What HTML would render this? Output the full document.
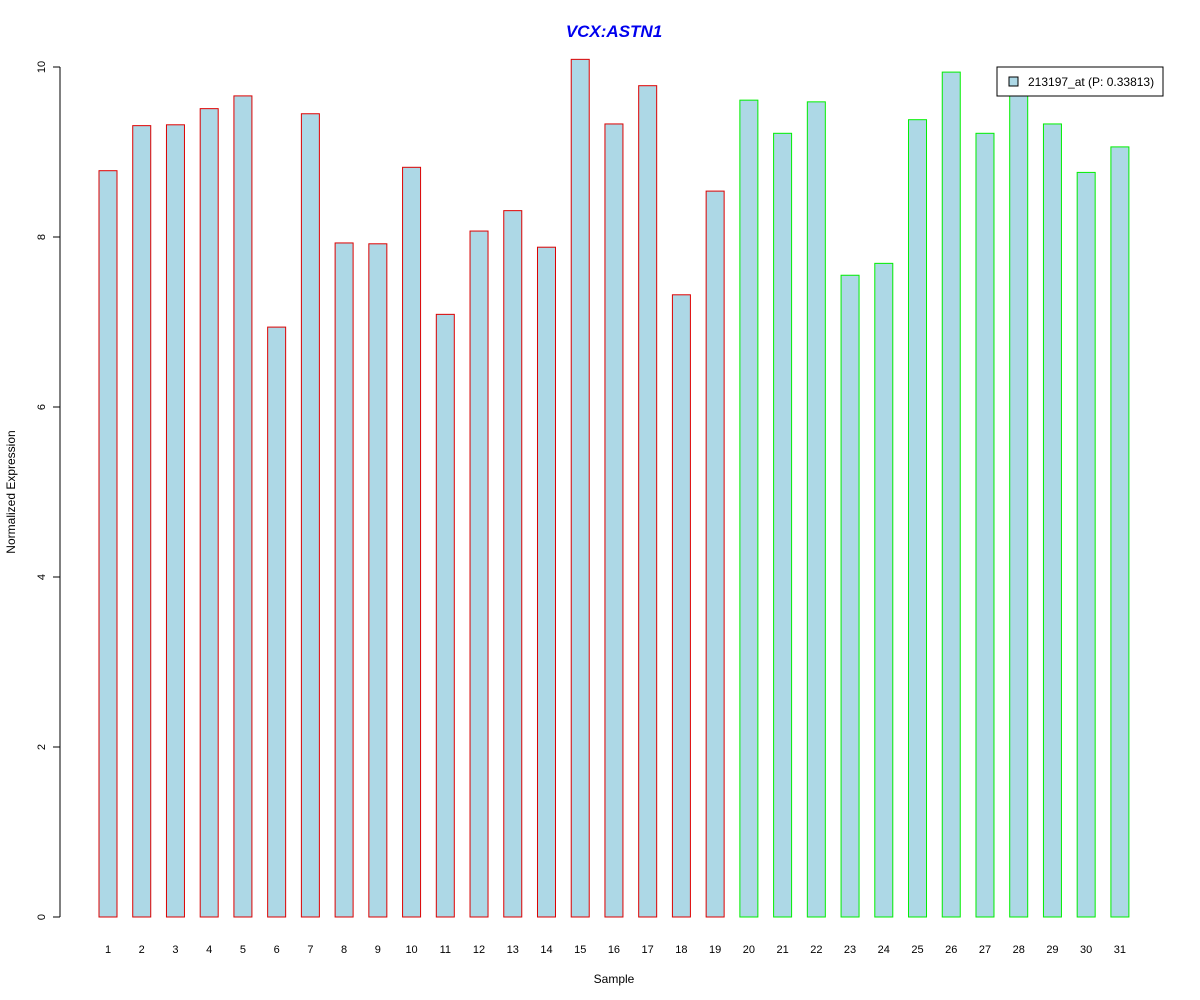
<!DOCTYPE html>
<html><head><meta charset="utf-8"><style>
html,body{margin:0;padding:0;background:#fff;}
svg{display:block;font-family:"Liberation Sans",Arial,sans-serif;}
</style></head><body>
<svg id="chart" width="1200" height="1000" xmlns="http://www.w3.org/2000/svg">
<text x="614" y="37" text-anchor="middle" font-size="17" font-weight="bold" font-style="italic" fill="#0000ee">VCX:ASTN1</text>
<text x="614" y="983" text-anchor="middle" font-size="12">Sample</text>
<text transform="translate(15,492) rotate(-90)" text-anchor="middle" font-size="12">Normalized Expression</text>
<g id="yaxis"></g>
<g id="bars"></g>
<g id="xlabels"></g>
<g>
<rect x="997" y="67" width="166" height="29" fill="#fff" stroke="#000"/>
<rect x="1009" y="77" width="9" height="9" fill="#add8e6" stroke="#000"/>
<text x="1028" y="86" font-size="12">213197_at (P: 0.33813)</text>
</g>
</svg>
<script>
const categories=["1","2","3","4","5","6","7","8","9","10","11","12","13","14","15","16","17","18","19","20","21","22","23","24","25","26","27","28","29","30","31"];
const values=[8.78,9.31,9.32,9.51,9.66,6.94,9.45,7.93,7.92,8.82,7.09,8.07,8.31,7.88,10.09,9.33,9.78,7.32,8.54,9.61,9.22,9.59,7.55,7.69,9.38,9.94,9.22,9.67,9.33,8.76,9.06];
const groups=[0,0,0,0,0,0,0,0,0,0,0,0,0,0,0,0,0,0,0,1,1,1,1,1,1,1,1,1,1,1,1];
const yTicks=[0,2,4,6,8,10];
const ns="http://www.w3.org/2000/svg";
const y=v=>917-v*85;
const x=i=>108+i*33.73;
function mk(t,a,p){const e=document.createElementNS(ns,t);for(const k in a)e.setAttribute(k,a[k]);p.appendChild(e);return e;}
const ya=document.getElementById('yaxis');
mk('line',{x1:60,x2:60,y1:y(0),y2:y(10),stroke:'#000'},ya);
yTicks.forEach(t=>{
 mk('line',{x1:53,x2:60,y1:y(t),y2:y(t),stroke:'#000'},ya);
 const tx=mk('text',{transform:`translate(45,${y(t)}) rotate(-90)`,'text-anchor':'middle','font-size':11},ya);
 tx.textContent=t;
 
 
});
const bg=document.getElementById('bars'),xl=document.getElementById('xlabels');
values.forEach((v,i)=>{
 const r=mk('rect',{x:x(i)-9,y:y(v),width:18,height:y(0)-y(v),fill:'#add8e6',stroke:groups[i]?'#00ee00':'#dd0000'},bg);
 
 
 const t=mk('text',{x:x(i),y:953,'text-anchor':'middle','font-size':11},xl);
 t.textContent=categories[i];
 
 
});
</script>
</body></html>
